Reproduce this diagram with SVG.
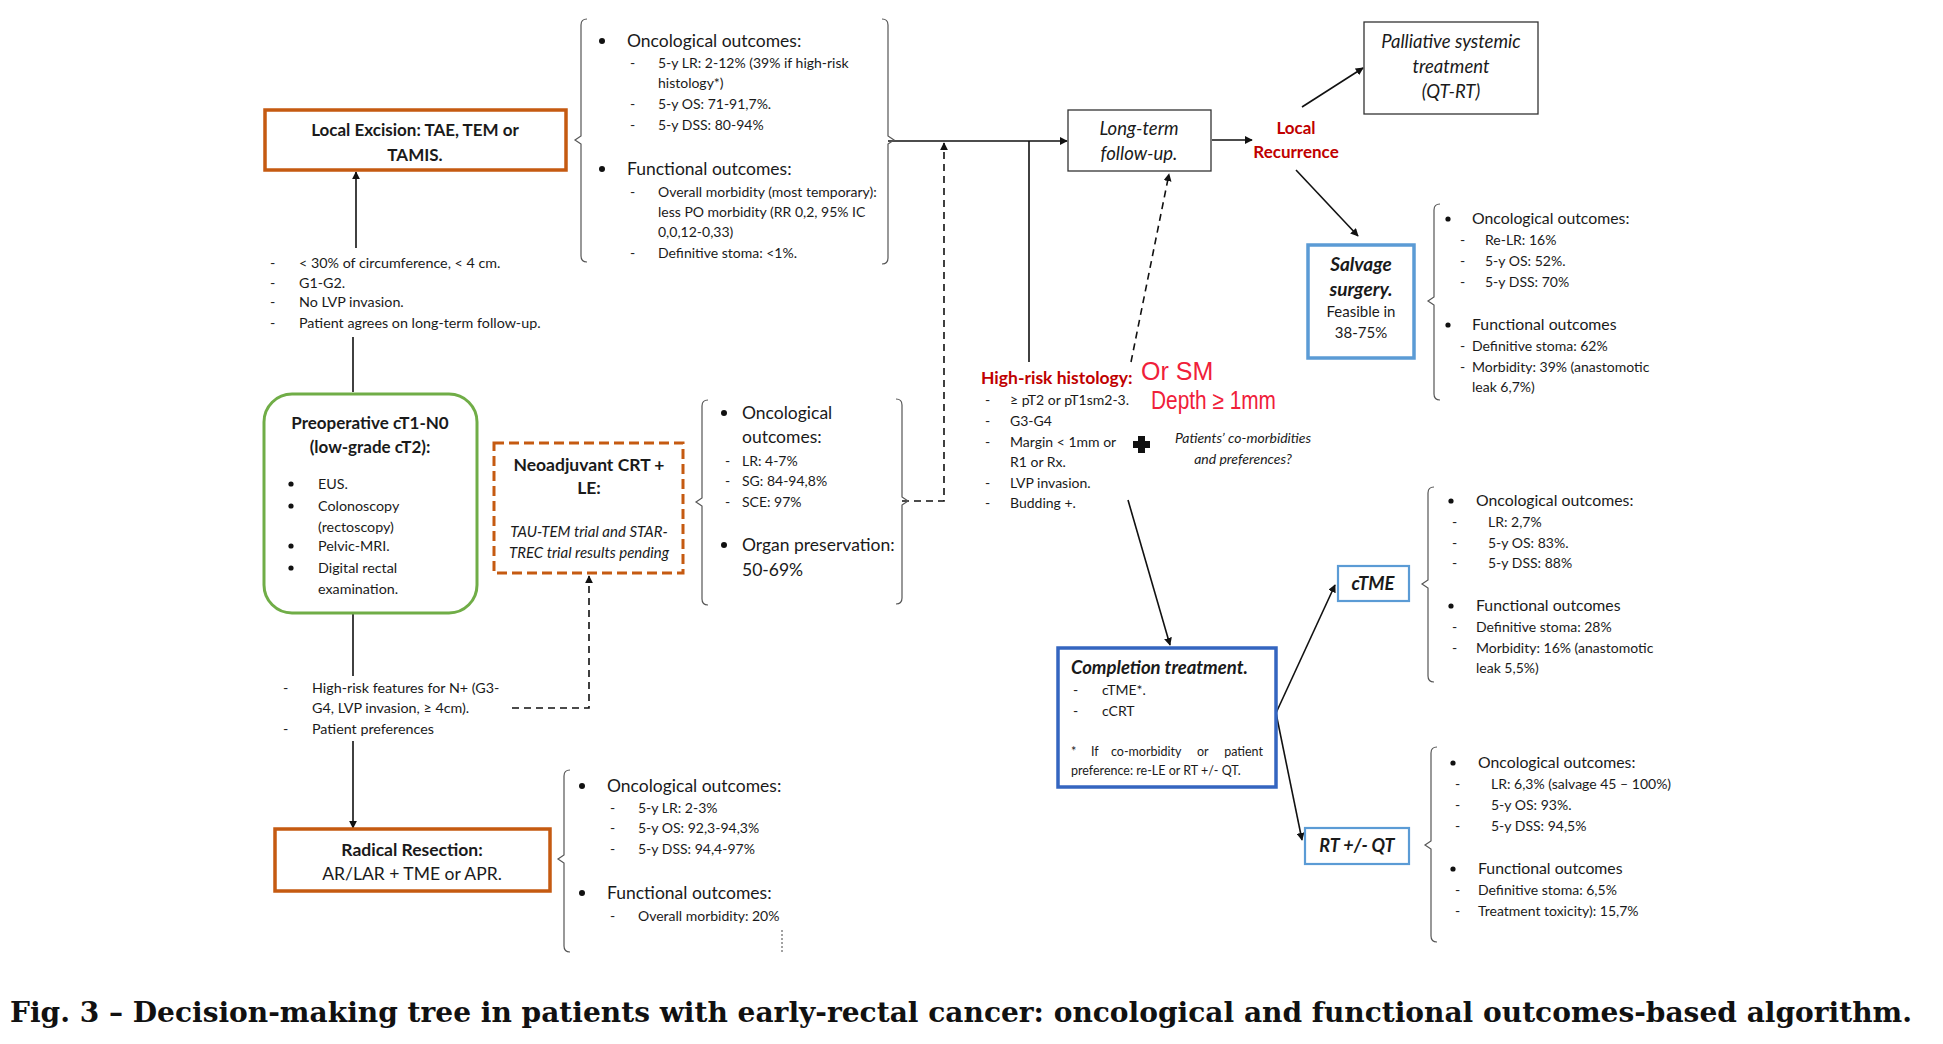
<svg xmlns="http://www.w3.org/2000/svg" width="1943" height="1044" viewBox="0 0 1943 1044">
<style>
text{font-family:Lato,"Liberation Sans",sans-serif;fill:#1a1a1a}
.s{font-size:14px}
.m{font-size:14.3px}
.h{font-size:17.5px}
.h2{font-size:15.8px}
.b{font-weight:bold}
.i{font-style:italic}
.c{text-anchor:middle}
.red{fill:#c00000}
.hand{font-family:"Liberation Sans",sans-serif;fill:#f0203a;font-size:25px}
.box{fill:#fff}
.orange{stroke:#c55a11;stroke-width:3.5}
.blk{stroke:#333;stroke-width:1.3}
.lblue{stroke:#5b9bd5}
.br{fill:none;stroke:#555;stroke-width:1.2}
.ln{fill:none;stroke:#111;stroke-width:1.6}
.dash{stroke-dasharray:7 5}
.cap{font-family:"DejaVu Serif","Liberation Serif",serif;font-weight:bold;font-size:28px;fill:#111}
</style>
<defs>
<marker id="ah" viewBox="0 0 10 10" refX="9" refY="5" markerWidth="8" markerHeight="8" orient="auto" markerUnits="userSpaceOnUse">
<path d="M0,0 L10,5 L0,10 z" fill="#111"/>
</marker>
</defs>
<rect width="1943" height="1044" fill="#fff"/>

<g id="connectors">
<line class="ln" x1="356" y1="248" x2="356" y2="172" marker-end="url(#ah)"/>
<line class="ln" x1="353" y1="337" x2="353" y2="392"/>
<line class="ln" x1="353" y1="613" x2="353" y2="676"/>
<line class="ln" x1="353" y1="741" x2="353" y2="828" marker-end="url(#ah)"/>
<polyline class="ln dash" points="512,708 589,708 589,576" marker-end="url(#ah)"/>
<line class="ln" x1="888" y1="141" x2="1067" y2="141" marker-end="url(#ah)"/>
<polyline class="ln dash" points="902,501 944,501 944,143" marker-end="url(#ah)"/>
<line class="ln" x1="1029" y1="141" x2="1029" y2="362"/>
<line class="ln" x1="1212" y1="140" x2="1252" y2="140" marker-end="url(#ah)"/>
<line class="ln" x1="1302" y1="107" x2="1363" y2="68" marker-end="url(#ah)"/>
<line class="ln" x1="1296" y1="170" x2="1358" y2="236" marker-end="url(#ah)"/>
<line class="ln dash" x1="1131" y1="362" x2="1169" y2="174" marker-end="url(#ah)"/>
<line class="ln" x1="1128" y1="500" x2="1170" y2="645" marker-end="url(#ah)"/>
<line class="ln" x1="1276" y1="713" x2="1335" y2="585" marker-end="url(#ah)"/>
<line class="ln" x1="1276" y1="713" x2="1302" y2="840" marker-end="url(#ah)"/>
<line x1="782" y1="930" x2="782" y2="952" stroke="#444" stroke-width="1" stroke-dasharray="2 2"/>
</g>

<g id="local-excision">
<rect class="box orange" x="265" y="110" width="301" height="60"/>
<text class="b c" x="415" y="136" font-size="17">Local Excision: TAE, TEM or</text>
<text class="b c" x="415" y="161" font-size="17">TAMIS.</text>
</g>

<g id="le-criteria" class="m">
<text x="270" y="268">-</text><text x="299" y="268">&lt; 30% of circumference, &lt; 4 cm.</text>
<text x="270" y="288">-</text><text x="299" y="288">G1-G2.</text>
<text x="270" y="307">-</text><text x="299" y="307">No LVP invasion.</text>
<text x="270" y="328">-</text><text x="299" y="328">Patient agrees on long-term follow-up.</text>
</g>

<g id="le-outcomes">
<path class="br" d="M587,19 Q581,19 581,25 L581,136 L575,140 L581,144 L581,256 Q581,262 587,262"/>
<path class="br" d="M882,19 Q888,19 888,25 L888,136 L894,140 L888,144 L888,258 Q888,264 882,264"/>
<circle cx="602" cy="41" r="3" fill="#111"/>
<text class="h" x="627" y="47">Oncological outcomes:</text>
<g class="s">
<text x="630" y="68">-</text><text x="658" y="68">5-y LR: 2-12% (39% if high-risk</text>
<text x="658" y="88">histology*)</text>
<text x="630" y="109">-</text><text x="658" y="109">5-y OS: 71-91,7%.</text>
<text x="630" y="130">-</text><text x="658" y="130">5-y DSS: 80-94%</text>
</g>
<circle cx="602" cy="169" r="3" fill="#111"/>
<text class="h" x="627" y="175">Functional outcomes:</text>
<g class="s">
<text x="630" y="197">-</text><text x="658" y="197">Overall morbidity (most temporary):</text>
<text x="658" y="217">less PO morbidity (RR 0,2, 95% IC</text>
<text x="658" y="237">0,0,12-0,33)</text>
<text x="630" y="258">-</text><text x="658" y="258">Definitive stoma: &lt;1%.</text>
</g>
</g>

<g id="preoperative">
<rect class="box" x="264" y="394" width="213" height="219" rx="28" stroke="#70ad47" stroke-width="3"/>
<text class="b c" x="370" y="429" font-size="17">Preoperative cT1-N0</text>
<text class="b c" x="370" y="453" font-size="17">(low-grade cT2):</text>
<g class="m">
<circle cx="291" cy="484" r="2.6" fill="#111"/><text x="318" y="489">EUS.</text>
<circle cx="291" cy="506" r="2.6" fill="#111"/><text x="318" y="511">Colonoscopy</text>
<text x="318" y="532">(rectoscopy)</text>
<circle cx="291" cy="546" r="2.6" fill="#111"/><text x="318" y="551">Pelvic-MRI.</text>
<circle cx="291" cy="568" r="2.6" fill="#111"/><text x="318" y="573">Digital rectal</text>
<text x="318" y="594">examination.</text>
</g>
</g>

<g id="rr-criteria" class="m">
<text x="283" y="693">-</text><text x="312" y="693">High-risk features for N+ (G3-</text>
<text x="312" y="713">G4, LVP invasion, ≥ 4cm).</text>
<text x="283" y="734">-</text><text x="312" y="734">Patient preferences</text>
</g>

<g id="radical-resection">
<rect class="box orange" x="275" y="829" width="275" height="62"/>
<text class="b c" x="412" y="856" font-size="17.5">Radical Resection:</text>
<text class="c" x="412" y="880" font-size="17.5">AR/LAR + TME or APR.</text>
</g>

<g id="rr-outcomes">
<path class="br" d="M570,770 Q564,770 564,776 L564,855 L558,859 L564,863 L564,946 Q564,952 570,952"/>
<circle cx="582" cy="786" r="3" fill="#111"/>
<text class="h" x="607" y="792">Oncological outcomes:</text>
<g class="s">
<text x="610" y="813">-</text><text x="638" y="813">5-y LR: 2-3%</text>
<text x="610" y="833">-</text><text x="638" y="833">5-y OS: 92,3-94,3%</text>
<text x="610" y="854">-</text><text x="638" y="854">5-y DSS: 94,4-97%</text>
</g>
<circle cx="582" cy="893" r="3" fill="#111"/>
<text class="h" x="607" y="899">Functional outcomes:</text>
<text class="s" x="610" y="921">-</text><text class="s" x="638" y="921">Overall morbidity: 20%</text>
</g>

<g id="neoadjuvant">
<rect class="box" x="494" y="443" width="189" height="130" stroke="#c55a11" stroke-width="3" stroke-dasharray="10 5"/>
<text class="b c" x="589" y="471" font-size="17.5">Neoadjuvant CRT  +</text>
<text class="b c" x="589" y="494" font-size="17.5">LE:</text>
<text class="i c" x="589" y="537" font-size="15">TAU-TEM trial and STAR-</text>
<text class="i c" x="589" y="558" font-size="15">TREC trial results pending</text>
</g>

<g id="neo-outcomes">
<path class="br" d="M708,400 Q702,400 702,406 L702,498 L696,502 L702,506 L702,599 Q702,605 708,605"/>
<path class="br" d="M896,399 Q902,399 902,405 L902,497 L908,501 L902,505 L902,598 Q902,604 896,604"/>
<circle cx="724" cy="413" r="3" fill="#111"/>
<text class="h" x="742" y="419">Oncological</text>
<text class="h" x="742" y="443">outcomes:</text>
<g class="s">
<text x="725" y="466">-</text><text x="742" y="466">LR: 4-7%</text>
<text x="725" y="486">-</text><text x="742" y="486">SG: 84-94,8%</text>
<text x="725" y="507">-</text><text x="742" y="507">SCE: 97%</text>
</g>
<circle cx="724" cy="545" r="3" fill="#111"/>
<text class="h" x="742" y="551">Organ preservation:</text>
<text class="h" x="742" y="576">50-69%</text>
</g>

<g id="long-term-follow-up">
<rect class="box blk" x="1068" y="110" width="143" height="61"/>
<text class="i c" x="1139" y="135" font-size="18.5">Long-term</text>
<text class="i c" x="1139" y="160" font-size="18.5">follow-up.</text>
</g>

<g id="local-recurrence">
<text class="b c red" x="1296" y="134" font-size="17">Local</text>
<text class="b c red" x="1296" y="158" font-size="17">Recurrence</text>
</g>

<g id="palliative">
<rect class="box blk" x="1364" y="22" width="174" height="92"/>
<text class="i c" x="1451" y="48" font-size="18.5">Palliative systemic</text>
<text class="i c" x="1451" y="73" font-size="18.5">treatment</text>
<text class="i c" x="1451" y="98" font-size="18.5">(QT-RT)</text>
</g>

<g id="salvage-surgery">
<rect class="box lblue" x="1308" y="245" width="106" height="113" stroke-width="3.5"/>
<text class="b i c" x="1361" y="271" font-size="19">Salvage</text>
<text class="b i c" x="1361" y="296" font-size="19">surgery.</text>
<text class="c" x="1361" y="317" font-size="15">Feasible in</text>
<text class="c" x="1361" y="338" font-size="15">38-75%</text>
</g>

<g id="salvage-outcomes">
<path class="br" d="M1440,204 Q1434,204 1434,210 L1434,297 L1428,301 L1434,305 L1434,394 Q1434,400 1440,400"/>
<circle cx="1448" cy="219" r="2.6" fill="#111"/>
<text class="h2" x="1472" y="224">Oncological outcomes:</text>
<g class="s">
<text x="1460" y="245">-</text><text x="1485" y="245">Re-LR: 16%</text>
<text x="1460" y="266">-</text><text x="1485" y="266">5-y OS: 52%.</text>
<text x="1460" y="287">-</text><text x="1485" y="287">5-y DSS: 70%</text>
</g>
<circle cx="1448" cy="325" r="2.6" fill="#111"/>
<text class="h2" x="1472" y="330">Functional outcomes</text>
<g class="s">
<text x="1460" y="351">-</text><text x="1472" y="351">Definitive stoma: 62%</text>
<text x="1460" y="372">-</text><text x="1472" y="372">Morbidity: 39% (anastomotic</text>
<text x="1472" y="392">leak 6,7%)</text>
</g>
</g>

<g id="high-risk-histology">
<text class="b red" x="981" y="384" font-size="17.5">High-risk histology:</text>
<g class="s">
<text x="985" y="405">-</text><text x="1010" y="405">≥ pT2 or pT1sm2-3.</text>
<text x="985" y="426">-</text><text x="1010" y="426">G3-G4</text>
<text x="985" y="447">-</text><text x="1010" y="447">Margin &lt; 1mm or</text>
<text x="1010" y="467">R1 or Rx.</text>
<text x="985" y="488">-</text><text x="1010" y="488">LVP invasion.</text>
<text x="985" y="508">-</text><text x="1010" y="508">Budding +.</text>
</g>
<text class="hand" x="1141" y="380">Or SM</text>
<text class="hand" x="1151" y="409" font-size="21" textLength="125" lengthAdjust="spacingAndGlyphs">Depth ≥ 1mm</text>
</g>

<g id="comorbidities">
<rect x="1138" y="436" width="7" height="17" fill="#111"/>
<rect x="1133" y="441" width="17" height="7" fill="#111"/>
<text class="i c" x="1243" y="443" font-size="14">Patients’ co-morbidities</text>
<text class="i c" x="1243" y="464" font-size="14">and preferences?</text>
</g>

<g id="completion-treatment">
<rect class="box" x="1058" y="648" width="218" height="139" stroke="#3465c0" stroke-width="3.5"/>
<text class="b i" x="1071" y="674" font-size="18.5">Completion treatment.</text>
<g class="s">
<text x="1073" y="695">-</text><text x="1102" y="695">cTME*.</text>
<text x="1073" y="716">-</text><text x="1102" y="716">cCRT</text>
</g>
<g font-size="12.5">
<text x="1071" y="756">*</text>
<text x="1091" y="756">If</text>
<text x="1111" y="756">co-morbidity</text>
<text x="1197" y="756">or</text>
<text x="1263" y="756" text-anchor="end">patient</text>
<text x="1071" y="775">preference: re-LE or RT +/- QT.</text>
</g>
</g>

<g id="ctme">
<rect class="box lblue" x="1338" y="566" width="71" height="35" stroke-width="2.2"/>
<text class="b i c" x="1373" y="590" font-size="18.5">cTME</text>
</g>

<g id="rt-qt">
<rect class="box lblue" x="1305" y="828" width="104" height="36" stroke-width="2.2"/>
<text class="b i c" x="1357" y="852" font-size="18">RT +/- QT</text>
</g>

<g id="ctme-outcomes">
<path class="br" d="M1434,487 Q1428,487 1428,493 L1428,580 L1422,584 L1428,588 L1428,676 Q1428,682 1434,682"/>
<circle cx="1451" cy="501" r="2.6" fill="#111"/>
<text class="h2" x="1476" y="506">Oncological outcomes:</text>
<g class="s">
<text x="1452" y="527">-</text><text x="1488" y="527">LR: 2,7%</text>
<text x="1452" y="548">-</text><text x="1488" y="548">5-y OS: 83%.</text>
<text x="1452" y="568">-</text><text x="1488" y="568">5-y DSS: 88%</text>
</g>
<circle cx="1451" cy="606" r="2.6" fill="#111"/>
<text class="h2" x="1476" y="611">Functional outcomes</text>
<g class="s" font-size="14.5">
<text x="1452" y="632">-</text><text x="1476" y="632">Definitive stoma: 28%</text>
<text x="1452" y="653">-</text><text x="1476" y="653">Morbidity: 16% (anastomotic</text>
<text x="1476" y="673">leak 5,5%)</text>
</g>
</g>

<g id="rt-outcomes">
<path class="br" d="M1437,747 Q1431,747 1431,753 L1431,841 L1425,845 L1431,849 L1431,936 Q1431,942 1437,942"/>
<circle cx="1453" cy="763" r="2.6" fill="#111"/>
<text class="h2" x="1478" y="768">Oncological outcomes:</text>
<g class="s">
<text x="1455" y="789">-</text><text x="1491" y="789">LR: 6,3% (salvage 45 – 100%)</text>
<text x="1455" y="810">-</text><text x="1491" y="810">5-y OS: 93%.</text>
<text x="1455" y="831">-</text><text x="1491" y="831">5-y DSS: 94,5%</text>
</g>
<circle cx="1453" cy="869" r="2.6" fill="#111"/>
<text class="h2" x="1478" y="874">Functional outcomes</text>
<g class="s">
<text x="1455" y="895">-</text><text x="1478" y="895">Definitive stoma: 6,5%</text>
<text x="1455" y="916">-</text><text x="1478" y="916">Treatment toxicity): 15,7%</text>
</g>
</g>

<text class="cap" x="10" y="1022" textLength="1902" lengthAdjust="spacingAndGlyphs">Fig. 3 – Decision-making tree in patients with early-rectal cancer: oncological and functional outcomes-based algorithm.</text>
</svg>
